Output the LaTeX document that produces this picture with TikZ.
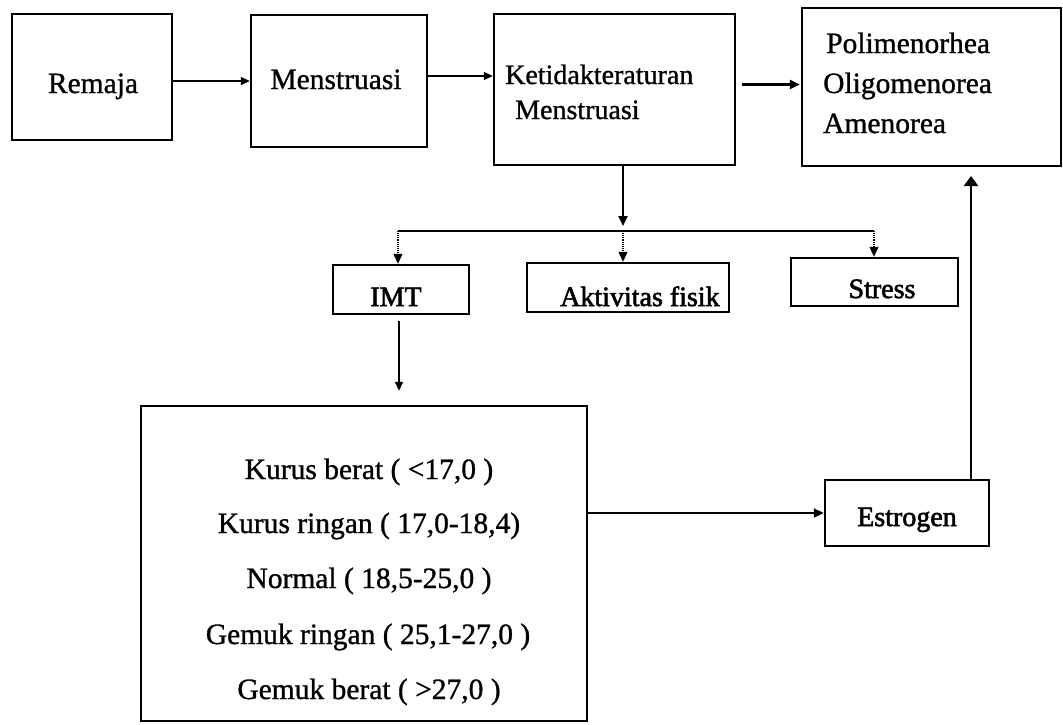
\documentclass[tikz,border=0pt]{standalone}
\usepackage{fontspec}
\setmainfont{Liberation Serif}[RawFeature={embolden=1.0}]
\newfontfamily\midfont{Liberation Serif}[RawFeature={embolden=2.0}]
\usetikzlibrary{arrows.meta,fit}
\begin{document}
\begin{tikzpicture}[x=1pt,y=-1pt,
  box/.style={draw, line width=2.4pt, inner sep=0pt},
  txt/.style={inner sep=0pt, font=\fontsize{29.5}{34}\selectfont},
  txtk/.style={inner sep=0pt, font=\fontsize{28}{33}\selectfont},
  txtm/.style={inner sep=0pt, font=\midfont\fontsize{28}{33}\selectfont},
  conn/.style={line width=1.8pt, -{Triangle[length=10pt,width=9pt]}},
  thinconn/.style={line width=1.4pt, -{Triangle[length=9pt,width=8pt]}},
  drop/.style={line width=1.1pt, densely dotted, -{Triangle[length=10pt,width=9pt]}},
  line/.style={line width=1.8pt}]
\fill[white] (0,0) rectangle (1063,724);
\useasboundingbox (0,0) rectangle (1063,724);

% boxes
\node[box, fit={(12,14) (172,140)}] (remaja) {};
\node[box, fit={(251,15) (427,147)}] (menstruasi) {};
\node[box, fit={(494,14) (735,165)}] (ketidak) {};
\node[box, fit={(802,8) (1061,166)}] (poli) {};
\node[box, fit={(333,265) (469,314)}] (imt) {};
\node[box, fit={(527,263) (729,312)}] (aktivitas) {};
\node[box, fit={(791,258) (958,306)}] (stress) {};
\node[box, fit={(141,406) (587,721)}] (kategori) {};
\node[box, fit={(825,480) (989,546)}] (estrogen) {};

% texts
\node[txt, anchor=base] (tremaja) at (93,93) {Remaja};
\node[txt, anchor=base] (tmens) at (336,89) {Menstruasi};
\node[txtk, anchor=base west] (tket1) at (505,84) {Ketidakteraturan};
\node[txtk, anchor=base west] (tket2) at (515,119) {Menstruasi};
\node[txt, anchor=base west] (tpoli1) at (826,53) {Polimenorhea};
\node[txt, anchor=base west] (tpoli2) at (823,93) {Oligomenorea};
\node[txt, anchor=base west] (tpoli3) at (823,133) {Amenorea};
\node[txtm, anchor=base] (timt) at (396,306) {IMT};
\node[txtm, anchor=base west] (takt) at (560,306) {Aktivitas fisik};
\node[txtm, anchor=base] (tstress) at (882,298) {Stress};
\node[txtm, anchor=base] (testro) at (907,526) {Estrogen};
\node[txt, anchor=base] (tk1) at (369,479) {Kurus berat ( <17,0 )};
\node[txt, anchor=base] (tk2) at (369,533) {Kurus ringan ( 17,0-18,4)};
\node[txt, anchor=base] (tk3) at (369,588) {Normal ( 18,5-25,0 )};
\node[txt, anchor=base] (tk4) at (368,644) {Gemuk ringan ( 25,1-27,0 )};
\node[txt, anchor=base] (tk5) at (369,699) {Gemuk berat ( >27,0 )};

% branch coordinates
\coordinate (bj) at (623,231);
\coordinate (bl) at (398,231);
\coordinate (brr) at (874,231);
\coordinate (pin) at (971,176);

% connectors
\draw[thinconn] (remaja.east |- menstruasi.west) -- (menstruasi.west);
\draw[thinconn] ([yshift=5pt]menstruasi.east) -- ([yshift=5pt]menstruasi.east -| ketidak.west);
\draw[conn, line width=2.4pt, shorten <=6pt, shorten >=1pt] ([yshift=5pt]ketidak.east) -- ([yshift=5pt]ketidak.east -| poli.west);
\draw[conn] (ketidak.south -| bj) -- ([yshift=5pt]bj);
\draw[line] (bl) -- (brr);
\draw[drop] (bl) -- (imt.north -| bl);
\draw[drop] (bj) -- (aktivitas.north -| bj);
\draw[drop] (brr) -- (stress.north -| brr);
\draw[thinconn, shorten <=6pt, shorten >=14pt] ([xshift=-2pt]imt.south) -- ([xshift=-2pt]imt.south |- kategori.north);
\draw[conn] (kategori.east |- estrogen.west) -- (estrogen.west);
\draw[conn, line width=2.4pt, -{Triangle[length=10pt,width=14pt]}] (estrogen.north -| pin) -- (pin);
\end{tikzpicture}
\end{document}
